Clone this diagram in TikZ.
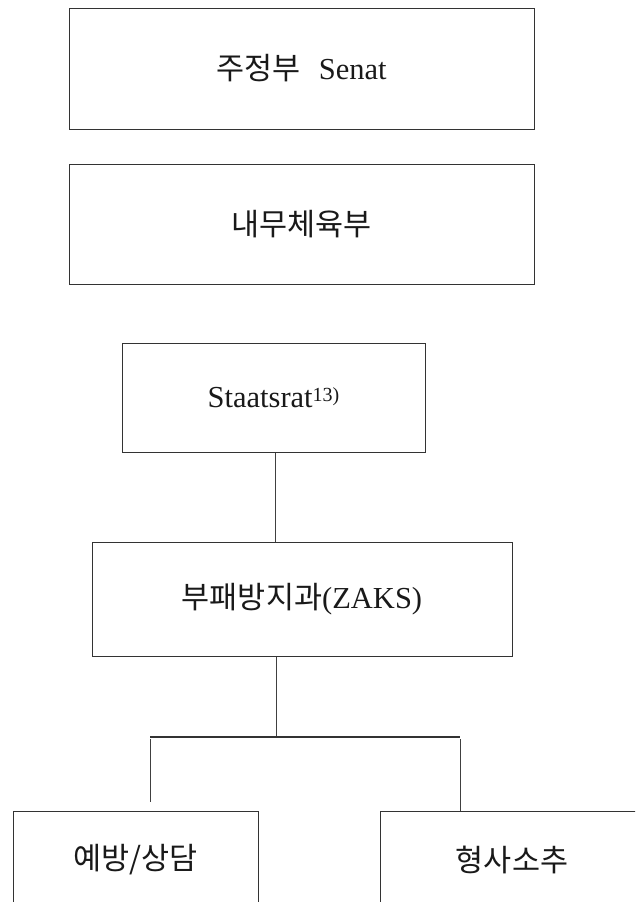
\documentclass[tikz,border=0pt]{standalone}
\usepackage{fontspec}
\setmainfont{Liberation Serif}
\newfontfamily\kr{Noto Sans CJK KR}
\begin{document}
\tikzset{
  box/.style={draw=black!80, line width=1pt, inner sep=0pt, text=black!90,
    font=\fontsize{30.5}{36}\selectfont},
  conn/.style={draw=black!75, line width=1pt},
  bar/.style={draw=black!80, line width=1.6pt},
}
\begin{tikzpicture}[x=1pt,y=-1pt]
\useasboundingbox (0,0) rectangle (635,902);
\clip (0,0) rectangle (635,902);
\node[box, minimum width=465pt, minimum height=121pt] (senat) at (301.5,68.5)
  {{\kr 주정부}\hspace{0.6em}Senat};
\node[box, minimum width=465pt, minimum height=120pt] (innen) at (301.5,224)
  {\kr 내무체육부};
\node[box, minimum width=303pt, minimum height=109pt] (staat) at (273.5,397.5)
  {Staatsrat\raisebox{6pt}{\fontsize{20}{20}\selectfont 13)}};
\node[box, minimum width=420pt, minimum height=114pt] (zaks) at (302,599)
  {{\kr 부패방지과}(ZAKS)};
\node[box, minimum width=245pt, minimum height=98pt] (praev) at (135.5,860)
  {\kr 예방/상담};
\node[box, minimum width=264pt, minimum height=98pt] (straf) at (512,860)
  {\kr 형사소추};
\coordinate (j) at (276,737);
\coordinate (hl) at (150,737);
\coordinate (hr) at (460,737);
\coordinate (lend) at (150,802);
\draw[conn] ([xshift=1.5pt]staat.south) -- ([xshift=1.5pt]staat.south |- zaks.north);
\draw[conn] (zaks.south -| j) -- (j);
\draw[bar] (hl) -- (hr);
\draw[conn] ([yshift=-2pt]hl) -- (lend);
\draw[conn] ([yshift=-2pt]hr) -- (hr |- straf.north);
\end{tikzpicture}
\end{document}
